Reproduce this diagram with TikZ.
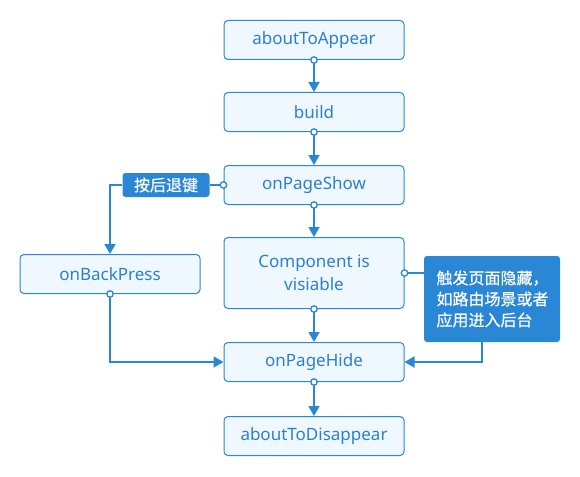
\documentclass[tikz,border=0pt]{standalone}
\usepackage{fontspec}
\setmainfont{Noto Sans}
\newfontfamily\cjk{Noto Sans CJK SC}[FakeBold=0.6]
\usetikzlibrary{arrows.meta}
\definecolor{lb}{HTML}{2A87D6}
\definecolor{lf}{HTML}{F0F8FF}
\definecolor{tb}{HTML}{2B7FD0}
\begin{document}
\begin{tikzpicture}[x=1pt,y=-1pt,
  box/.style={draw=lb, fill=lf, line width=1pt, rounded corners=4pt, minimum width=180pt, minimum height=39pt, text=tb, font=\fontsize{17}{23}\selectfont, inner sep=0pt, align=center},
  tag/.style={fill=lb, rounded corners=3pt, text=white, font=\cjk\fontsize{16}{21}\selectfont, inner sep=0pt},
  link/.style={draw=lb, line width=1.8pt},
  conn/.style={link, -{Triangle[length=10pt,width=11pt]}},
  dot/.style={draw=lb, fill=white, line width=1.3pt}]
\useasboundingbox (0,0) rectangle (580,476);
\node[box] (a) at (314,40) {aboutToAppear};
\node[box] (b) at (314,112) {build};
\node[box] (show) at (314,185) {onPageShow};
\node[box, minimum height=71pt] (comp) at (314,273) {Component is\\visiable};
\node[box] (hide) at (314,362) {onPageHide};
\node[box] (dis) at (314,436) {aboutToDisappear};
\node[box] (back) at (110,274) {onBackPress};
\node[tag, minimum width=87pt, minimum height=24pt] (lbl) at (166,185) {按后退键};
\node[tag, minimum width=136pt, minimum height=86pt, text width=111pt, inner xsep=12.5pt, align=left] (call) at (492,299) {触发页面隐藏，\\如路由场景或者\\应用进入后台};
\draw[conn] (a.south) -- (b.north);
\draw[conn] (b.south) -- (show.north);
\draw[conn] (show.south) -- (comp.north);
\draw[conn] (comp.south) -- (hide.north);
\draw[conn] (hide.south) -- (dis.north);
\draw[link] (show.west) -- (lbl.east);
\draw[conn] (lbl.west) -| (back.north);
\draw[link] (comp.east) -- (comp.east -| call.west);
\draw[conn] ([xshift=-10pt]call.south) |- (hide.east);
\draw[conn] (back.south) |- (hide.west);
\foreach \p in {a.south, b.south, show.south, comp.south, hide.south, back.south, show.west, comp.east}
  \draw[dot] (\p) circle (3.2pt);
\end{tikzpicture}
\end{document}
